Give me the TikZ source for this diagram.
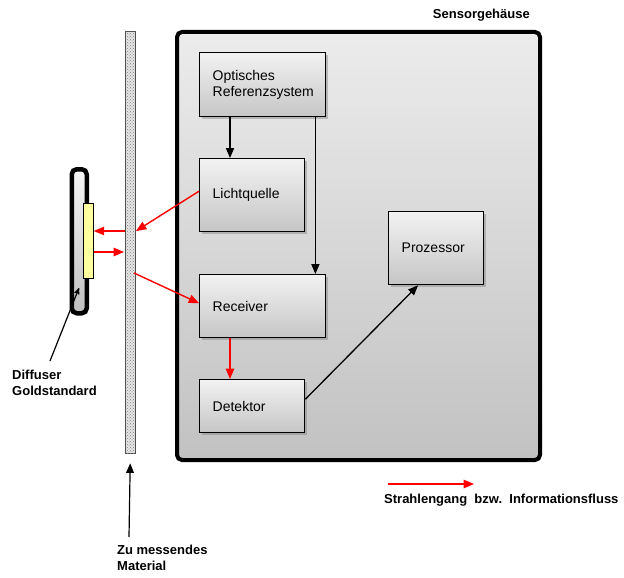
\documentclass[tikz,border=0pt]{standalone}
\usepackage{fontspec}
\setmainfont{Liberation Sans}
\usepackage{tikz}
\usetikzlibrary{calc}
\usetikzlibrary{arrows}
\usetikzlibrary{patterns}
\usetikzlibrary{shadows}
\definecolor{goldgelb}{RGB}{255,255,160}
\tikzset{
  kasten/.style={draw=black, line width=1.4pt, top color=gray!10, bottom color=gray!45, anchor=north west, align=left, inner xsep=13pt,
    drop shadow={shadow xshift=2pt, shadow yshift=-2pt, opacity=.45}, font=\fontsize{14}{16}\selectfont},
  beschr/.style={font=\bfseries\fontsize{13}{16}\selectfont, align=left, inner sep=0pt},
  strahl/.style={red, line width=1.4pt, -triangle 45},
  info/.style={black, line width=1.3pt, -triangle 45},
}

\begin{document}
\begin{tikzpicture}[x=1pt,y=-1pt]
\useasboundingbox (0,0) rectangle (624,578);
% Gehaeuse
\node[draw=black, line width=4pt, rounded corners=5pt, top color=gray!15, bottom color=gray!48, minimum width=363, minimum height=428, anchor=north west] (haus) at (175,30) {};
\node[beschr, anchor=south east] (hausl) at (530,21) {Sensorgehäuse};
% Bausteine
\node[kasten, minimum width=126, minimum height=64, text width=100] (opt) at (199,52) {Optisches\\Referenzsystem};
\node[kasten, minimum width=105, minimum height=73, text width=79] (licht) at (199,158) {Lichtquelle};
\node[kasten, minimum width=126, minimum height=63, text width=100] (recv) at (199,274) {Receiver};
\node[kasten, minimum width=105, minimum height=53, text width=79] (det) at (199,379) {Detektor};
\node[kasten, minimum width=95, minimum height=73, text width=69] (proz) at (388,211) {Prozessor};
% Material und Diffuser
\node[draw=gray!60!black, fill=gray!20, postaction={pattern=crosshatch dots, pattern color=gray}, minimum width=10, minimum height=422, anchor=north west, inner sep=0pt] (mat) at (125,31) {};
\node[draw=black, line width=4.5pt, rounded corners=5pt, top color=gray!8, bottom color=gray!50, minimum width=15, minimum height=144, anchor=north west, inner sep=0pt] (diff) at (69.5,167) {};
\node[draw=black, line width=0.8pt, fill=goldgelb, minimum width=10, minimum height=75, anchor=north west, inner sep=0pt] (gold) at (83,203) {};
\coordinate (matein) at (136,231);
\coordinate (matvor) at (125,231);
\coordinate (matzur) at (124,252);
\coordinate (matout) at (134,273);
\coordinate (diffspitze) at (79,288);
% Informationsfluss
\draw[info] ($(opt.south west)+(31,0)$) -- ($(licht.north west)+(31,0)$);
\draw[info] ($(opt.south east)+(-11,0)$) -- ($(recv.north east)+(-11,0)$);
\draw[info] ($(det.east)+(0,-7)$) -- ($(proz.south west)+(30,0)$);
% Strahlengang
\draw[strahl] ($(licht.west)+(0,-4)$) -- (matein);
\draw[strahl] (matvor) -- (gold.east |- matvor);
\draw[strahl] (gold.east |- matzur) -- (matzur);
\draw[strahl] (matout) -- ($(recv.west)+(0,-3)$);
\draw[strahl] ($(recv.south west)+(31,0)$) -- ($(det.north west)+(31,0)$);
% Beschriftungen
\node[beschr, anchor=north west] (diffl) at (12,370) {Diffuser\\Goldstandard};
\draw[black, line width=1.2pt, -stealth'] ($(diffl.north west)+(38,-9)$) -- (diffspitze);
\node[beschr, anchor=north west] (matl) at (117,545) {Zu messendes\\Material};
\draw[black, line width=1.2pt, -triangle 45] ($(matl.north west)+(12,-8)$) -- ($(mat.south)+(0,10)$);
\coordinate (lega) at (388,484);
\draw[strahl] (lega) -- ++(86,0);
\node[beschr, anchor=west] (legt) at (384,500) {Strahlengang\ \ bzw.\ \ Informationsfluss};
\end{tikzpicture}
\end{document}
